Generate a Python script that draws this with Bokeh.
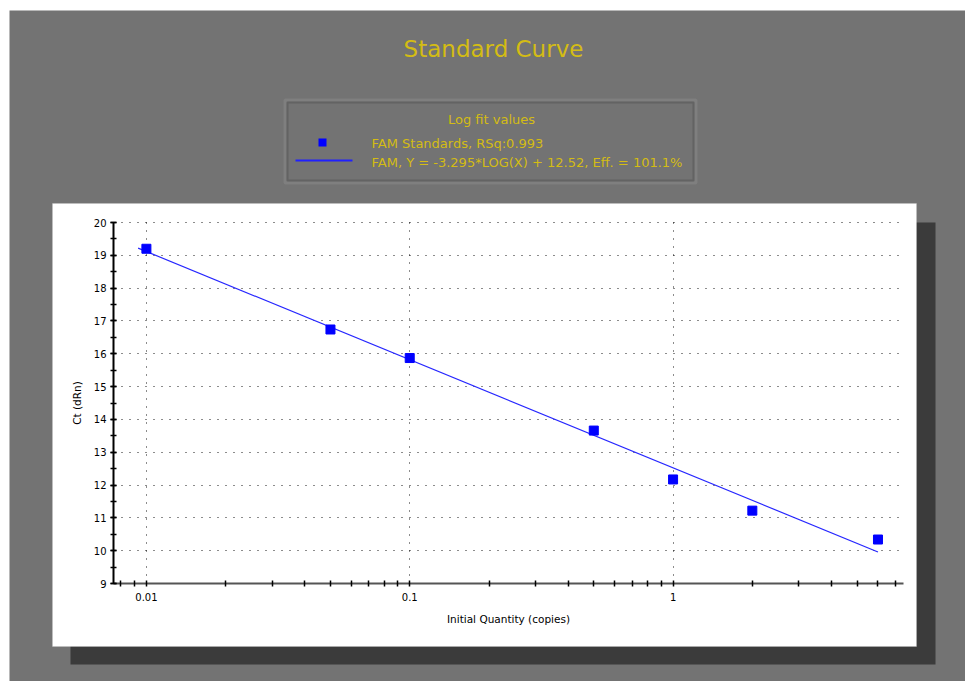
import math
from bokeh.plotting import figure
from bokeh.models import Range1d, FixedTicker, SingleIntervalTicker, Label, BoxAnnotation
from bokeh.embed import file_html
from bokeh.resources import INLINE

# ---------------- data ----------------
quantity = [0.01, 0.05, 0.1, 0.5, 1, 2, 6]
ct_values = [19.2, 16.74, 15.87, 13.66, 12.17, 11.22, 10.34]
fit_x = [0.0093, 6.0]
fit_y = [19.22, 9.96]
x_bounds = (0.0075, 7.5)
y_bounds = (9, 20)
x_major_ticks = [0.01, 0.1, 1]
x_tick_labels = ["0.01", "0.1", "1"]
x_minor_ticks = [0.008, 0.009,
                 0.02, 0.03, 0.04, 0.05, 0.06, 0.07, 0.08, 0.09,
                 0.2, 0.3, 0.4, 0.5, 0.6, 0.7, 0.8, 0.9,
                 2, 3, 4, 5, 6, 7]
title_text = "Standard Curve"
legend_title = "Log fit values"
legend_labels = ["FAM Standards, RSq:0.993",
                 "FAM, Y = -3.295*LOG(X) + 12.52, Eff. = 101.1%"]
x_label = "Initial Quantity (copies)"
y_label = "Ct (dRn)"

# ---------------- layout / styles ----------------
GRAY = "#737373"
YELLOW = "#d4bc14"
BLUE = "#0000ff"
FONT = "DejaVu Sans"

W, H = 965, 681
# plot area (axes box) in canvas pixels
PL, PR, PT, PB = 113, 903, 222, 583

kx = (PR - PL) / (math.log10(x_bounds[1]) - math.log10(x_bounds[0]))
ky = (PB - PT) / (y_bounds[1] - y_bounds[0])
x_start = 10 ** (math.log10(x_bounds[0]) - PL / kx)
x_end = 10 ** (math.log10(x_bounds[1]) + (W - PR) / kx)
y_start = y_bounds[0] - (H - PB) / ky
y_end = y_bounds[1] + PT / ky


def sx(px):
    return px


def sy(py):
    return H - py


def box(l, r, t, b, **kw):
    return BoxAnnotation(left=sx(l), right=sx(r), top=sy(t), bottom=sy(b),
                         left_units="screen", right_units="screen",
                         top_units="screen", bottom_units="screen", **kw)


p = figure(width=W, height=H, x_axis_type="log",
           x_range=Range1d(x_start, x_end), y_range=Range1d(y_start, y_end),
           output_backend="svg", toolbar_location=None, min_border=0)
p.title.visible = False
p.border_fill_color = "white"
p.background_fill_color = "white"
p.outline_line_color = None

# gray page, panel shadow and white panel
p.add_layout(box(9, W + 20, 10, H + 20, fill_color=GRAY, fill_alpha=1,
                 line_color=None, level="image"))
p.add_layout(box(70, 935, 222, 664, fill_color="#3b3b3b", fill_alpha=1,
                 line_color=None, level="image"))
p.add_layout(box(52, 916, 203, 646, fill_color="white", fill_alpha=1,
                 line_color="#c8c8c8", line_width=1, level="image"))

# axes
p.xaxis.ticker = FixedTicker(ticks=x_major_ticks, minor_ticks=x_minor_ticks)
p.xaxis.major_label_overrides = {t: l for t, l in zip(x_major_ticks, x_tick_labels)}
p.yaxis.ticker = SingleIntervalTicker(interval=1, num_minor_ticks=2)
p.xaxis.fixed_location = y_bounds[0]
p.yaxis.fixed_location = x_bounds[0]
p.xaxis.bounds = x_bounds
p.yaxis.bounds = y_bounds

for ax in (p.xaxis[0], p.yaxis[0]):
    ax.axis_line_width = 2
    ax.major_tick_in = 3
    ax.major_tick_out = 3
    ax.minor_tick_in = 3
    ax.minor_tick_out = 3
    ax.major_tick_line_color = "black"
    ax.minor_tick_line_color = "black"
    ax.major_tick_line_width = 1.5
    ax.minor_tick_line_width = 1.5
    ax.major_label_text_font = FONT
    ax.major_label_text_font_size = "10px"
    ax.major_label_text_color = "black"
    ax.axis_label_text_font = FONT
    ax.axis_label_text_font_size = "10.5px"
    ax.axis_label_text_font_style = "normal"
    ax.axis_label_text_color = "black"

p.xaxis.axis_line_color = "#555555"
p.yaxis.axis_line_color = "black"
p.xaxis.axis_label = x_label
p.yaxis.axis_label = y_label
p.xaxis.major_label_standoff = 6
p.xaxis.axis_label_standoff = 9
p.yaxis.major_label_standoff = 4
p.yaxis.axis_label_standoff = 8

# grid
for g in (p.xgrid[0], p.ygrid[0]):
    g.grid_line_color = "black"
    g.grid_line_dash = "1 7"
    g.grid_line_width = 1
    g.grid_line_alpha = 0.9
p.xgrid.bounds = x_bounds
p.ygrid.bounds = y_bounds
p.xgrid.cross_bounds = y_bounds
p.ygrid.cross_bounds = x_bounds

# data
p.line(fit_x, fit_y, line_color="#2626ff", line_width=1.2)
p.scatter(quantity, ct_values, marker="square", size=9,
          fill_color=BLUE, line_color=BLUE)

# title
p.add_layout(Label(x=sx(493), y=sy(48), x_units="screen", y_units="screen",
                   text=title_text, text_align="center", text_baseline="middle",
                   text_font=FONT, text_font_size="23px", text_color=YELLOW))

# legend box (bevel)
p.add_layout(box(284.5, 695.5, 99.5, 182.5, fill_color=None, fill_alpha=0,
                 line_color="#9c9c9c", line_width=3))
p.add_layout(box(287, 693, 102, 180, fill_color=None, fill_alpha=0,
                 line_color="#3f3f3f", line_width=2))
p.add_layout(Label(x=sx(491), y=sy(119), x_units="screen", y_units="screen",
                   text=legend_title, text_align="center", text_baseline="middle",
                   text_font=FONT, text_font_size="13px", text_color=YELLOW))
# legend glyphs
p.add_layout(box(318, 326, 138, 146, fill_color=BLUE, fill_alpha=1, line_color=None))
p.add_layout(box(295, 352, 159, 161, fill_color="#2020ff", fill_alpha=1, line_color=None))
for i, lab in enumerate(legend_labels):
    p.add_layout(Label(x=sx(371), y=sy(143 + 19 * i), x_units="screen", y_units="screen",
                       text=lab, text_align="left", text_baseline="middle",
                       text_font=FONT, text_font_size="13px", text_color=YELLOW))

open("out.html", "w").write(file_html(p, INLINE))
